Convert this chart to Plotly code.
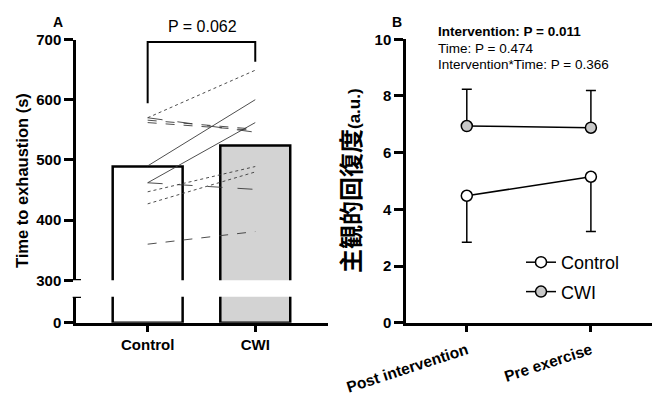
import plotly.graph_objects as go

W, H = 659, 396
FONT = "Liberation Sans, Arial, sans-serif"
CJK = "Liberation Sans, Noto Sans CJK JP, sans-serif"

# ---- Panel A: time to exhaustion ----
groups = ["Control", "CWI"]
group_means = [489, 524]
control_ind = [570, 566, 562, 570, 490, 462, 462, 447, 427, 360]
cwi_ind = [649, 551, 549, 546, 600, 562, 451, 489, 480, 381]
pair_dash = ["dot", "dash", "dash", "longdash", "solid", "solid",
             "longdash", "dot", "dot", "dash"]
bar_fill = ["white", "#d3d3d3"]
p_text_a = "P = 0.062"
bracket_left, bracket_top, bracket_right = 594, 696, 663

# ---- Panel B: subjective recovery ----
times = ["Post intervention", "Pre exercise"]
ctrl_mean = [4.48, 5.15]
ctrl_sd = [1.64, 1.93]
cwi_mean = [6.94, 6.88]
cwi_sd = [1.30, 1.31]
stats_lines = ["<b>Intervention: P = 0.011</b>",
               "Time: P = 0.474",
               "Intervention*Time: P = 0.366"]


def fx(p):
    return p / W


def fy(p):
    return 1 - p / H


fig = go.Figure()

# bars: upper segment (300-700) and lower segment (0-break)
for yax in ["y", "y2"]:
    fig.add_trace(go.Bar(
        x=groups, y=group_means, xaxis="x", yaxis=yax, width=0.65,
        marker=dict(color=bar_fill, line=dict(color="black", width=2.5)),
        showlegend=False, hoverinfo="skip"))

# paired individual lines
for c, w, d in zip(control_ind, cwi_ind, pair_dash):
    fig.add_trace(go.Scatter(
        x=groups, y=[c, w], xaxis="x", yaxis="y", mode="lines",
        line=dict(color="#3a3a3a", width=0.9, dash=d),
        showlegend=False, hoverinfo="skip"))

# significance bracket
fig.add_trace(go.Scatter(
    x=[groups[0], groups[0], groups[1], groups[1]],
    y=[bracket_left, bracket_top, bracket_top, bracket_right],
    xaxis="x", yaxis="y", mode="lines", cliponaxis=False,
    line=dict(color="black", width=2), showlegend=False, hoverinfo="skip"))

# panel B series
fig.add_trace(go.Scatter(
    x=times, y=ctrl_mean, xaxis="x3", yaxis="y3", mode="lines+markers",
    name="Control", legendgroup="c",
    line=dict(color="black", width=1.5),
    marker=dict(symbol="circle", size=11, color="white",
                line=dict(color="black", width=1.5)),
    error_y=dict(type="data", symmetric=False, array=[0, 0],
                 arrayminus=ctrl_sd, color="black", thickness=1.5, width=5)))
fig.add_trace(go.Scatter(
    x=times, y=cwi_mean, xaxis="x3", yaxis="y3", mode="lines+markers",
    name="CWI", legendgroup="w",
    line=dict(color="black", width=1.5),
    marker=dict(symbol="circle", size=11, color="#c8c8c8",
                line=dict(color="black", width=1.5)),
    error_y=dict(type="data", symmetric=False, array=cwi_sd,
                 arrayminus=[0, 0], color="black", thickness=1.5, width=5)))

axis_common = dict(showgrid=False, zeroline=False, showline=True,
                   linecolor="black", linewidth=2.5, ticks="outside",
                   tickcolor="black", tickwidth=2.5, fixedrange=True,
                   automargin=False)
tick_font = dict(family=FONT, size=15, color="black", weight="bold")
tick_font_b = dict(family=FONT, size=15.5, color="black", weight="bold")

fig.update_layout(
    width=W, height=H,
    margin=dict(l=0, r=0, t=0, b=0, pad=0, autoexpand=False),
    paper_bgcolor="white", plot_bgcolor="rgba(0,0,0,0)",
    barmode="overlay", showlegend=True,
    xaxis=dict(domain=[fx(76), fx(328)], range=[-0.666, 1.676],
               anchor="y2", ticklen=7, tickfont=tick_font, **axis_common),
    yaxis=dict(domain=[fy(280.3), fy(39.5)], range=[300, 700],
               anchor="x", tickvals=[300, 400, 500, 600, 700], ticklen=9,
               tickfont=tick_font, **axis_common),
    yaxis2=dict(domain=[fy(322.7), fy(296.7)], range=[0, 100],
                anchor="x", tickvals=[0], ticklen=9,
                tickfont=tick_font, **axis_common),
    xaxis3=dict(domain=[fx(406), fx(651.7)], range=[-0.49, 1.49],
                anchor="y3", ticklen=7, tickangle=-18, tickfont=tick_font_b,
                ticklabelstandoff=3, **axis_common),
    yaxis3=dict(domain=[fy(322.7), fy(39.3)], range=[0, 10],
                anchor="x3", tickvals=[0, 2, 4, 6, 8, 10], ticklen=9,
                tickfont=tick_font, **axis_common),
    legend=dict(x=fx(521), y=fy(244), xanchor="left", yanchor="top",
                font=dict(family=FONT, size=18, color="black"),
                tracegroupgap=3, bgcolor="rgba(0,0,0,0)"),
)

# axis-break caps
for yv, yref in [(300, "y"), (100, "y2")]:
    fig.add_shape(type="line", xref="paper", yref=yref,
                  x0=fx(72.7), x1=fx(81), y0=yv, y1=yv,
                  line=dict(color="black", width=2.5))

ann = [
    dict(text="<b>A</b>", x=fx(58), y=fy(22), font=dict(size=14)),
    dict(text="<b>B</b>", x=fx(397), y=fy(22), font=dict(size=14)),
    dict(text=p_text_a, x=fx(202), y=fy(26.5), font=dict(size=16)),
    dict(text="<b>Time to exhaustion (s)</b>", x=fx(22), y=fy(181),
         textangle=-90, font=dict(size=16.5)),
    dict(text="<b>主観的回復度<span style='font-size:17px'>(a.u.)</span></b>",
         x=fx(351), y=fy(181), textangle=-90,
         font=dict(size=24, family=CJK)),
]
for a in ann:
    f = dict(family=FONT, color="black")
    f.update(a.pop("font"))
    fig.add_annotation(xref="paper", yref="paper", showarrow=False,
                       xanchor="center", yanchor="middle", font=f, **a)

for txt, yc in zip(stats_lines, [31.7, 48.3, 64.0]):
    fig.add_annotation(xref="paper", yref="paper", showarrow=False,
                       x=fx(436), y=fy(yc), xanchor="left", yanchor="middle",
                       text=txt, font=dict(family=FONT, size=13.5,
                                           color="black"))

fig.write_html("out.html")
